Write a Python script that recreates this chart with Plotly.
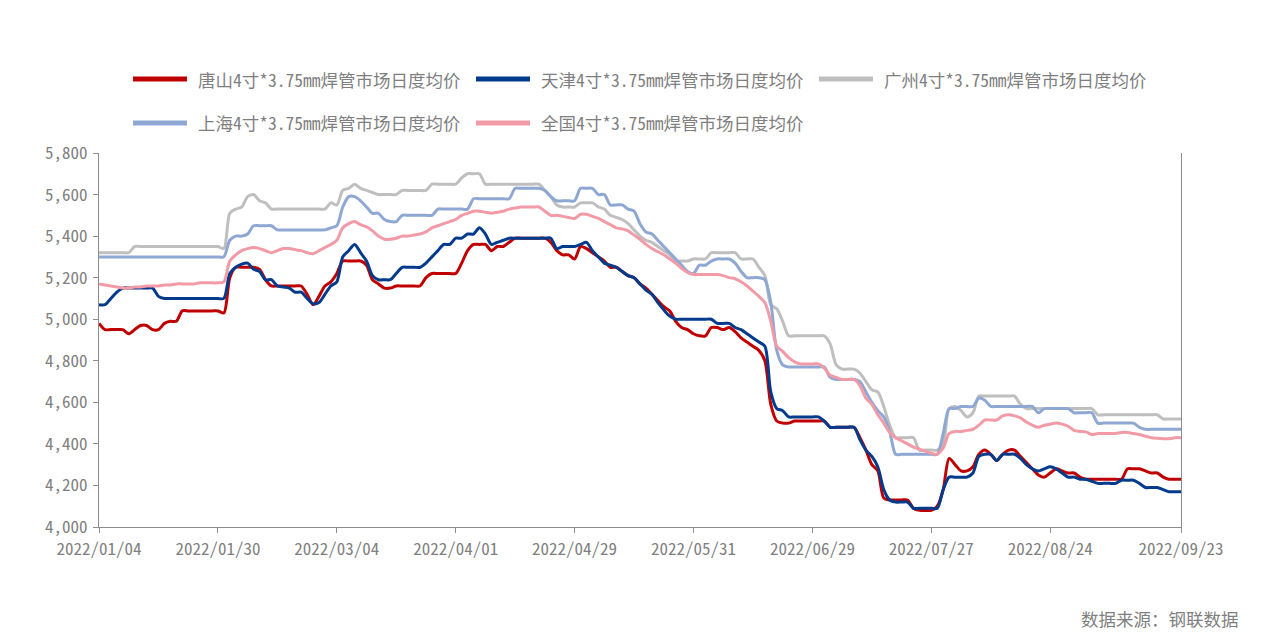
import plotly.graph_objects as go

DATES = [
    "2022/01/04","2022/01/05","2022/01/06","2022/01/07","2022/01/10","2022/01/11","2022/01/12","2022/01/13","2022/01/14","2022/01/17",
    "2022/01/18","2022/01/19","2022/01/20","2022/01/21","2022/01/24","2022/01/25","2022/01/26","2022/01/27","2022/01/28","2022/01/29",
    "2022/01/30","2022/02/07","2022/02/08","2022/02/09","2022/02/10","2022/02/11","2022/02/14","2022/02/15","2022/02/16","2022/02/17",
    "2022/02/18","2022/02/21","2022/02/22","2022/02/23","2022/02/24","2022/02/25","2022/02/28","2022/03/01","2022/03/02","2022/03/03",
    "2022/03/04","2022/03/07","2022/03/08","2022/03/09","2022/03/10","2022/03/11","2022/03/14","2022/03/15","2022/03/16","2022/03/17",
    "2022/03/18","2022/03/21","2022/03/22","2022/03/23","2022/03/24","2022/03/25","2022/03/28","2022/03/29","2022/03/30","2022/03/31",
    "2022/04/01","2022/04/02","2022/04/06","2022/04/07","2022/04/08","2022/04/11","2022/04/12","2022/04/13","2022/04/14","2022/04/15",
    "2022/04/18","2022/04/19","2022/04/20","2022/04/21","2022/04/22","2022/04/24","2022/04/25","2022/04/26","2022/04/27","2022/04/28",
    "2022/04/29","2022/05/05","2022/05/06","2022/05/07","2022/05/09","2022/05/10","2022/05/11","2022/05/12","2022/05/13","2022/05/16",
    "2022/05/17","2022/05/18","2022/05/19","2022/05/20","2022/05/23","2022/05/24","2022/05/25","2022/05/26","2022/05/27","2022/05/30",
    "2022/05/31","2022/06/01","2022/06/02","2022/06/06","2022/06/07","2022/06/08","2022/06/09","2022/06/10","2022/06/13","2022/06/14",
    "2022/06/15","2022/06/16","2022/06/17","2022/06/20","2022/06/21","2022/06/22","2022/06/23","2022/06/24","2022/06/27","2022/06/28",
    "2022/06/29","2022/06/30","2022/07/01","2022/07/04","2022/07/05","2022/07/06","2022/07/07","2022/07/08","2022/07/11","2022/07/12",
    "2022/07/13","2022/07/14","2022/07/15","2022/07/18","2022/07/19","2022/07/20","2022/07/21","2022/07/22","2022/07/25","2022/07/26",
    "2022/07/27","2022/07/28","2022/07/29","2022/08/01","2022/08/02","2022/08/03","2022/08/04","2022/08/05","2022/08/08","2022/08/09",
    "2022/08/10","2022/08/11","2022/08/12","2022/08/15","2022/08/16","2022/08/17","2022/08/18","2022/08/19","2022/08/22","2022/08/23",
    "2022/08/24","2022/08/25","2022/08/26","2022/08/29","2022/08/30","2022/08/31","2022/09/01","2022/09/02","2022/09/05","2022/09/06",
    "2022/09/07","2022/09/08","2022/09/09","2022/09/12","2022/09/13","2022/09/14","2022/09/15","2022/09/16","2022/09/19","2022/09/20",
    "2022/09/21","2022/09/22","2022/09/23",
]

TANGSHAN = [
    4980,4950,4950,4950,4950,4930,4950,4970,4970,4950,
    4950,4980,4990,4990,5040,5040,5040,5040,5040,5040,
    5040,5030,5200,5250,5250,5250,5250,5240,5190,5160,
    5160,5160,5160,5160,5160,5120,5070,5110,5160,5180,
    5220,5280,5280,5280,5280,5260,5190,5170,5150,5150,
    5160,5160,5160,5160,5160,5200,5220,5220,5220,5220,
    5220,5270,5330,5360,5360,5360,5330,5350,5350,5370,
    5390,5390,5390,5390,5390,5390,5370,5330,5310,5310,
    5290,5350,5340,5320,5300,5280,5250,5250,5230,5210,
    5200,5170,5150,5120,5090,5060,5040,4990,4960,4950,
    4930,4920,4920,4960,4960,4950,4960,4940,4910,4890,
    4870,4850,4800,4590,4510,4500,4500,4510,4510,4510,
    4510,4510,4510,4480,4480,4480,4480,4480,4430,4370,
    4300,4270,4140,4130,4130,4130,4130,4090,4080,4080,
    4080,4100,4180,4330,4300,4270,4270,4290,4350,4370,
    4350,4320,4350,4370,4370,4340,4310,4280,4250,4240,
    4260,4280,4270,4260,4260,4240,4230,4230,4230,4230,
    4230,4230,4230,4280,4280,4280,4270,4260,4260,4240,
    4230,4230,4230,
]

TIANJIN = [
    5070,5070,5100,5130,5150,5150,5150,5150,5150,5150,
    5110,5100,5100,5100,5100,5100,5100,5100,5100,5100,
    5100,5100,5220,5250,5265,5270,5240,5230,5190,5190,
    5160,5155,5150,5130,5130,5100,5075,5080,5120,5160,
    5180,5300,5330,5360,5320,5280,5210,5190,5190,5190,
    5220,5250,5250,5250,5250,5270,5300,5330,5360,5360,
    5390,5390,5410,5410,5440,5410,5360,5370,5380,5390,
    5390,5390,5390,5390,5390,5390,5390,5340,5350,5350,
    5350,5360,5370,5330,5300,5270,5260,5250,5230,5210,
    5200,5170,5140,5120,5080,5045,5015,5000,5000,5000,
    5000,5000,5000,5000,4980,4980,4980,4960,4950,4930,
    4910,4890,4870,4650,4570,4560,4530,4530,4530,4530,
    4530,4530,4510,4480,4480,4480,4480,4480,4420,4370,
    4340,4290,4180,4130,4120,4120,4120,4090,4090,4090,
    4090,4090,4180,4240,4240,4240,4240,4260,4340,4350,
    4350,4320,4350,4350,4350,4330,4300,4280,4270,4280,
    4290,4280,4260,4240,4240,4230,4230,4220,4210,4210,
    4210,4210,4225,4225,4225,4210,4190,4190,4190,4180,
    4170,4170,4170,
]

GUANGZHOU = [
    5320,5320,5320,5320,5320,5320,5350,5350,5350,5350,
    5350,5350,5350,5350,5350,5350,5350,5350,5350,5350,
    5350,5340,5510,5530,5540,5590,5600,5570,5560,5530,
    5530,5530,5530,5530,5530,5530,5530,5530,5530,5560,
    5550,5620,5630,5650,5630,5620,5610,5600,5600,5600,
    5600,5620,5620,5620,5620,5620,5650,5650,5650,5650,
    5650,5680,5700,5700,5700,5650,5650,5650,5650,5650,
    5650,5650,5650,5650,5650,5620,5590,5550,5540,5540,
    5540,5560,5560,5560,5540,5530,5500,5490,5480,5460,
    5430,5400,5380,5370,5350,5330,5310,5280,5280,5280,
    5290,5290,5290,5320,5320,5320,5320,5320,5290,5290,
    5290,5250,5210,5070,5050,4990,4920,4920,4920,4920,
    4920,4920,4920,4880,4780,4760,4760,4760,4740,4700,
    4660,4650,4580,4490,4430,4430,4430,4430,4370,4370,
    4370,4370,4400,4570,4580,4560,4530,4550,4630,4630,
    4630,4630,4630,4630,4630,4590,4570,4570,4570,4570,
    4570,4570,4570,4570,4570,4570,4570,4570,4540,4540,
    4540,4540,4540,4540,4540,4540,4540,4540,4540,4520,
    4520,4520,4520,
]

SHANGHAI = [
    5300,5300,5300,5300,5300,5300,5300,5300,5300,5300,
    5300,5300,5300,5300,5300,5300,5300,5300,5300,5300,
    5300,5300,5380,5400,5400,5410,5450,5450,5450,5450,
    5430,5430,5430,5430,5430,5430,5430,5430,5430,5440,
    5450,5540,5590,5590,5570,5540,5510,5510,5480,5470,
    5470,5500,5500,5500,5500,5500,5500,5530,5530,5530,
    5530,5530,5530,5580,5580,5580,5580,5580,5580,5580,
    5630,5630,5630,5630,5630,5620,5590,5570,5570,5570,
    5570,5630,5630,5630,5600,5600,5550,5550,5550,5530,
    5520,5460,5420,5410,5380,5350,5320,5290,5260,5230,
    5220,5260,5260,5280,5290,5290,5290,5270,5230,5200,
    5200,5200,5190,5080,4850,4780,4770,4770,4770,4770,
    4770,4770,4770,4720,4710,4710,4710,4710,4700,4650,
    4600,4560,4530,4460,4350,4350,4350,4350,4350,4350,
    4350,4350,4450,4570,4570,4580,4580,4580,4620,4610,
    4580,4580,4580,4580,4580,4580,4580,4580,4550,4570,
    4570,4570,4570,4570,4550,4550,4550,4550,4500,4500,
    4500,4500,4500,4500,4500,4480,4470,4470,4470,4470,
    4470,4470,4470,
]

NATIONAL = [
    5170,5165,5160,5155,5150,5150,5155,5155,5160,5160,
    5160,5165,5165,5170,5170,5170,5170,5175,5175,5175,
    5175,5180,5280,5310,5330,5340,5345,5340,5330,5320,
    5330,5340,5340,5335,5330,5320,5315,5330,5345,5360,
    5380,5440,5460,5470,5455,5445,5425,5400,5385,5385,
    5390,5400,5400,5405,5410,5420,5440,5450,5460,5470,
    5480,5500,5510,5520,5520,5515,5510,5515,5520,5530,
    5535,5540,5540,5540,5540,5520,5500,5500,5495,5490,
    5485,5505,5505,5495,5485,5470,5455,5440,5435,5425,
    5405,5385,5360,5340,5325,5310,5290,5270,5245,5225,
    5215,5215,5215,5215,5215,5210,5200,5195,5180,5160,
    5135,5110,5080,4990,4870,4845,4815,4795,4785,4785,
    4785,4785,4765,4730,4720,4710,4710,4710,4680,4620,
    4590,4540,4500,4455,4430,4415,4400,4385,4375,4365,
    4355,4350,4380,4450,4460,4460,4465,4470,4490,4515,
    4515,4515,4535,4540,4535,4525,4505,4490,4480,4490,
    4495,4500,4495,4485,4465,4460,4458,4445,4450,4450,
    4450,4450,4455,4455,4450,4445,4437,4430,4427,4425,
    4425,4430,4430,
]

SERIES_NAMES = [
    "唐山4寸*3.75mm焊管市场日度均价",
    "天津4寸*3.75mm焊管市场日度均价",
    "广州4寸*3.75mm焊管市场日度均价",
    "上海4寸*3.75mm焊管市场日度均价",
    "全国4寸*3.75mm焊管市场日度均价",
]
SERIES_VALUES = [TANGSHAN, TIANJIN, GUANGZHOU, SHANGHAI, NATIONAL]
COLORS = ["#C00000", "#023A8C", "#BFBFBF", "#8EA7D3", "#F29BA7"]

TICK_DATES = ["2022/01/04", "2022/01/30", "2022/03/04", "2022/04/01", "2022/04/29",
              "2022/05/31", "2022/06/29", "2022/07/27", "2022/08/24", "2022/09/23"]
Y_TICKS = [4000, 4200, 4400, 4600, 4800, 5000, 5200, 5400, 5600, 5800]
SOURCE_TEXT = "数据来源：钢联数据"

W, H = 1267, 642
ML, MR, MT, MB = 99, 86, 153, 115
FONT = "Noto Sans Mono CJK SC, Noto Sans CJK SC, DejaVu Sans Mono, monospace"
TXT = "#7F7F7F"
AX = "#8C8C8C"


def px_x(x):
    return (x - ML) / (W - ML - MR)


def px_y(y):
    return (H - MB - y) / (H - MT - MB)


fig = go.Figure()
for name, vals, col in zip(SERIES_NAMES, SERIES_VALUES, COLORS):
    fig.add_trace(go.Scatter(
        x=DATES, y=vals, name=name, mode="lines",
        line=dict(color=col, width=3, shape="spline", smoothing=0.8),
        showlegend=False,
    ))

# custom legend (ECharts-like long thick line icons)
legend_pos = [(133, 79), (476, 79), (819, 79), (133, 123), (476, 123)]
shapes = []
annotations = []
for (lx, ly), name, col in zip(legend_pos, SERIES_NAMES, COLORS):
    shapes.append(dict(type="line", xref="paper", yref="paper",
                       x0=px_x(lx), x1=px_x(lx + 54), y0=px_y(ly), y1=px_y(ly),
                       line=dict(color=col, width=5)))
    annotations.append(dict(xref="paper", yref="paper", x=px_x(lx + 63), y=px_y(ly),
                            xanchor="left", yanchor="middle", text=name, showarrow=False,
                            font=dict(family=FONT, size=17.5, color=TXT)))

annotations.append(dict(xref="paper", yref="paper", x=px_x(1241), y=px_y(618),
                        xanchor="right", yanchor="middle", text=SOURCE_TEXT, showarrow=False,
                        font=dict(family=FONT, size=17.5, color=TXT)))

fig.update_layout(
    width=W, height=H,
    margin=dict(l=ML, r=MR, t=MT, b=MB, pad=0),
    paper_bgcolor="white", plot_bgcolor="white",
    font=dict(family=FONT, size=17, color=TXT),
    showlegend=False,
    shapes=shapes, annotations=annotations,
    xaxis=dict(
        type="category", range=[0, len(DATES) - 1],
        tickmode="array", tickvals=TICK_DATES, ticktext=TICK_DATES,
        showline=True, linecolor=AX, linewidth=1,
        ticks="outside", ticklen=5, tickcolor=AX,
        ticklabelstandoff=2,
        showgrid=False, zeroline=False,
        tickfont=dict(family=FONT, size=17, color=TXT),
    ),
    yaxis=dict(
        range=[4000, 5800], tickmode="array", tickvals=Y_TICKS,
        tickformat=",d",
        showline=True, mirror=True, linecolor=AX, linewidth=1,
        ticks="outside", ticklen=5, tickcolor=AX,
        ticklabelstandoff=2,
        showgrid=False, zeroline=False,
        tickfont=dict(family=FONT, size=17, color=TXT),
    ),
)

fig.write_html(
    "out.html",
    config={"displayModeBar": False},
    post_script="document.body.style.margin='0';document.body.style.overflow='hidden';",
)
